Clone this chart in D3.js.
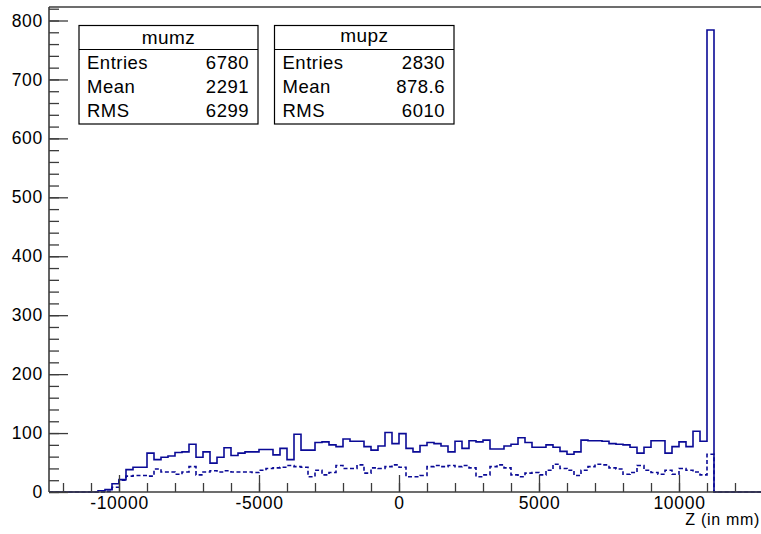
<!DOCTYPE html>
<html>
<head>
<meta charset="utf-8">
<script src="https://cdn.jsdelivr.net/npm/d3@7"></script>
<style>
  html, body { margin: 0; padding: 0; background: #fff; }
  svg { display: block; }
  text { font-family: "Liberation Sans", Arial, Helvetica, sans-serif; fill: #000; }
</style>
</head>
<body>
<svg id="chart" width="761" height="534"></svg>
<script>
// Histogram binning: 250 mm bins starting at -12500 mm
const binLow = -12500;
const binWidth = 250;

// Counts per bin, from -12500 mm upward (mu- and mu+ Z positions)
const mumzCounts = [
  0, 0, 0, 0, 0, 0, 0, 2, 4, 14,
  21, 38, 42, 42, 66, 55, 59, 61, 67, 68,
  81, 59, 68, 49, 59, 75, 62, 66, 68, 68,
  72, 72, 63, 74, 55, 98, 71, 71, 84, 85,
  80, 77, 90, 86, 86, 77, 71, 78, 101, 82,
  99, 74, 68, 79, 84, 82, 78, 68, 86, 74,
  87, 85, 88, 73, 73, 78, 81, 92, 84, 76,
  76, 80, 76, 69, 64, 68, 88, 87, 87, 86,
  82, 81, 80, 76, 66, 76, 87, 87, 66, 77,
  85, 77, 103, 86, 784, 0, 0, 0, 0, 0, 0, 0
];
const mupzCounts = [
  0, 0, 0, 0, 0, 0, 0, 0, 1, 8,
  20, 27, 28, 28, 27, 39, 34, 34, 30, 34,
  43, 29, 34, 36, 34, 36, 34, 34, 34, 33,
  37, 40, 41, 42, 45, 43, 42, 26, 37, 29,
  33, 45, 40, 40, 46, 32, 41, 40, 43, 46,
  42, 26, 26, 28, 43, 45, 43, 45, 43, 45,
  41, 26, 29, 43, 46, 41, 29, 26, 32, 33,
  29, 37, 47, 40, 37, 28, 37, 43, 47, 46,
  41, 39, 30, 33, 45, 37, 33, 30, 37, 30,
  40, 37, 34, 29, 64, 0, 0, 0, 0, 0, 0, 0
];

// Axis ticks
const xMajorTicks = [-10000, -5000, 0, 5000, 10000];
const xMinorTicks = d3.range(-12000, 13001, 1000);
const yMajorTicks = [0, 100, 200, 300, 400, 500, 600, 700, 800];
const yMinorTicks = d3.range(0, 821, 20);
const xTitle = "Z (in mm)";

// Statistics boxes
const statNames = ["mumz", "mupz"];
const statLabels = ["Entries", "Mean", "RMS"];
const statValues = [["6780", "2291", "6299"], ["2830", "878.6", "6010"]];

const svg = d3.select("#chart");
const W = 761, H = 534;
const frame = { left: 49, top: 7, bottom: 492, right: 763 };

const x = d3.scaleLinear().domain([-12500, 13000]).range([frame.left, frame.right]);
const y = d3.scaleLinear().domain([0, 800]).range([frame.bottom, 20.5]);

const axisColor = "#3c3c3c";
const histColor = "#0a0a96";
const fmt = d => String(d);

svg.append("rect").attr("width", W).attr("height", H).attr("fill", "#fff");

svg.append("defs").append("clipPath").attr("id", "plotClip")
  .append("rect")
  .attr("x", frame.left).attr("y", frame.top)
  .attr("width", W - frame.left).attr("height", frame.bottom - frame.top + 1);

// Step outline of a histogram
function stepPoints(counts) {
  const pts = counts.map((c, i) => [binLow + i * binWidth, c]);
  pts.push([binLow + counts.length * binWidth, counts[counts.length - 1]]);
  return pts;
}
const stepLine = d3.line()
  .x(d => x(d[0]))
  .y(d => y(d[1]))
  .curve(d3.curveStepAfter);

const plot = svg.append("g").attr("clip-path", "url(#plotClip)");

// mu- histogram (solid)
plot.append("path")
  .datum(stepPoints(mumzCounts))
  .attr("d", stepLine)
  .attr("fill", "none")
  .attr("stroke", histColor)
  .attr("stroke-width", 1.6);

// Frame: top edge
svg.append("line")
  .attr("x1", frame.left).attr("x2", W).attr("y1", frame.top).attr("y2", frame.top)
  .attr("stroke", axisColor).attr("stroke-width", 1.6);

// Y axis: major ticks with labels, minor ticks without
const yAxisMajor = d3.axisLeft(y).tickValues(yMajorTicks).tickFormat(fmt)
  .tickSizeInner(-19).tickSizeOuter(0).tickPadding(6);
const yAxisMinor = d3.axisLeft(y).tickValues(yMinorTicks).tickFormat("")
  .tickSizeInner(-10).tickSizeOuter(0);

const gyMinor = svg.append("g").attr("transform", `translate(${frame.left},0)`).call(yAxisMinor);
const gyMajor = svg.append("g").attr("transform", `translate(${frame.left},0)`).call(yAxisMajor);
gyMinor.select(".domain").remove();
gyMajor.select(".domain").remove();
svg.append("line")
  .attr("x1", frame.left).attr("x2", frame.left).attr("y1", frame.top).attr("y2", frame.bottom)
  .attr("stroke", axisColor).attr("stroke-width", 1.6);

// X axis
const xAxisMajor = d3.axisBottom(x).tickValues(xMajorTicks).tickFormat(fmt)
  .tickSizeInner(-17).tickSizeOuter(0).tickPadding(5);
const xAxisMinor = d3.axisBottom(x).tickValues(xMinorTicks).tickFormat("")
  .tickSizeInner(-9).tickSizeOuter(0);

const gxMinor = svg.append("g").attr("transform", `translate(0,${frame.bottom})`).call(xAxisMinor);
const gxMajor = svg.append("g").attr("transform", `translate(0,${frame.bottom})`).call(xAxisMajor);
gxMinor.select(".domain").remove();
gxMajor.select(".domain").remove();
svg.append("line")
  .attr("x1", frame.left).attr("x2", W).attr("y1", frame.bottom).attr("y2", frame.bottom)
  .attr("stroke", axisColor).attr("stroke-width", 1.6);

svg.selectAll(".tick line").attr("stroke", axisColor).attr("stroke-width", 1.3);
svg.selectAll(".tick text")
  .attr("font-size", 17.5)
  .attr("letter-spacing", 0.7)
  .attr("font-family", "'Liberation Sans', Arial, Helvetica, sans-serif")
  .attr("fill", "#000");

// mu+ histogram (dashed), drawn over the axis line
plot.append("path")
  .datum(stepPoints(mupzCounts))
  .attr("d", stepLine)
  .attr("fill", "none")
  .attr("stroke", histColor)
  .attr("stroke-width", 1.6)
  .attr("stroke-dasharray", "4,2.5");

// Axis title
svg.append("text")
  .attr("x", 760).attr("y", 525)
  .attr("text-anchor", "end")
  .attr("font-size", 16)
  .attr("letter-spacing", 0.7)
  .text(xTitle);

// Statistics boxes
const boxes = [
  { x0: 79, x1: 258 },
  { x0: 274.5, x1: 454 }
];
const boxTop = 25.5, boxSep = 49.5, boxBottom = 124;
const rowBase = [69, 93, 117];

boxes.forEach((b, i) => {
  const g = svg.append("g");
  g.append("rect")
    .attr("x", b.x0).attr("y", boxTop)
    .attr("width", b.x1 - b.x0).attr("height", boxBottom - boxTop)
    .attr("fill", "#fff").attr("stroke", "#000").attr("stroke-width", 1.2);
  g.append("line")
    .attr("x1", b.x0).attr("x2", b.x1).attr("y1", boxSep).attr("y2", boxSep)
    .attr("stroke", "#000").attr("stroke-width", 1.2);
  g.append("text")
    .attr("x", (b.x0 + b.x1) / 2).attr("y", i === 0 ? 44 : 42)
    .attr("text-anchor", "middle").attr("font-size", 19)
    .attr("letter-spacing", 0.4)
    .text(statNames[i]);
  statLabels.forEach((lab, r) => {
    g.append("text")
      .attr("x", b.x0 + 8).attr("y", rowBase[r])
      .attr("font-size", 18.5)
      .attr("letter-spacing", 0.5)
      .text(lab);
    g.append("text")
      .attr("x", b.x1 - 9).attr("y", rowBase[r])
      .attr("text-anchor", "end").attr("font-size", 18.5)
      .attr("letter-spacing", 0.5)
      .text(statValues[i][r]);
  });
});
</script>
</body>
</html>
